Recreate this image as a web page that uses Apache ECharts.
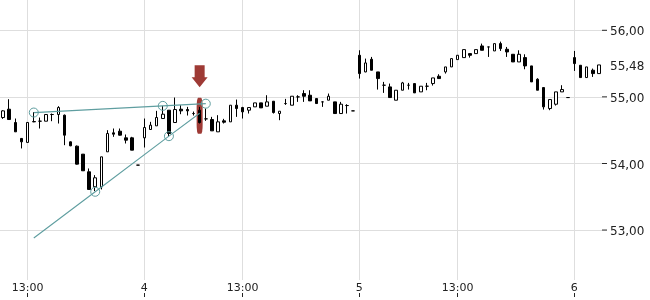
<!DOCTYPE html>
<html><head><meta charset="utf-8">
<script src="https://cdn.jsdelivr.net/npm/echarts@6/dist/echarts.min.js"></script>
<style>html,body{margin:0;padding:0;background:#fff}#c{width:650px;height:300px}</style>
</head><body><div id="c"></div><script>
// Sessions: day label, first 15-min slot (from 09:00), number of candles
const sessionDays = ['3', '4', '5', '6'];
const sessionFirstSlot = [12, 0, 0, 0];
const sessionCounts = [23, 35, 35, 5];

const opens  = [54.69,54.815,54.615,54.376,54.316,54.625,54.635,54.635,54.735,54.735,54.725,54.325,54.26,54.14,53.875,53.65,53.65,54.175,54.46,54.485,54.385,54.385,53.975,54.385,54.51,54.565,54.675,54.80,54.615,54.815,54.81,54.75,54.80,54.67,54.66,54.475,54.64,54.625,54.875,54.84,54.80,54.85,54.91,54.86,54.935,54.75,54.90,54.875,55.0,55.05,55.025,54.975,54.925,54.95,54.925,54.75,54.87,54.79,55.625,55.375,55.565,55.375,55.175,55.15,54.95,55.10,55.175,55.20,55.075,55.16,55.20,55.31,55.375,55.45,55.56,55.59,55.65,55.65,55.765,55.75,55.69,55.80,55.715,55.64,55.525,55.59,55.465,55.265,55.14,54.825,54.89,55.075,54.99,55.59,55.475,55.29,55.40,55.35];
const closes = [54.79,54.66,54.475,54.325,54.616,54.63,54.635,54.735,54.735,54.84,54.425,54.265,53.99,53.89,53.61,53.785,54.10,54.45,54.44,54.425,54.35,54.20,53.975,54.54,54.575,54.69,54.74,54.45,54.81,54.79,54.79,54.75,54.615,54.67,54.49,54.625,54.62,54.875,54.825,54.775,54.84,54.91,54.835,54.925,54.765,54.785,54.90,55.01,55.0,55.01,54.94,54.90,54.925,55.01,54.75,54.89,54.87,54.79,55.35,55.51,55.40,55.275,55.175,54.99,55.10,55.21,55.175,55.06,55.16,55.16,55.285,55.275,55.45,55.575,55.625,55.71,55.625,55.71,55.70,55.75,55.80,55.725,55.675,55.525,55.64,55.465,55.225,55.10,54.85,54.96,55.075,55.11,54.99,55.50,55.29,55.45,55.35,55.48];
const lows   = [54.67,54.66,54.475,54.226,54.316,54.62,54.525,54.635,54.635,54.60,54.275,54.26,53.985,53.89,53.61,53.585,53.61,54.175,54.40,54.42,54.30,54.20,53.975,54.24,54.51,54.565,54.675,54.41,54.615,54.74,54.72,54.72,54.60,54.64,54.49,54.475,54.60,54.625,54.70,54.675,54.75,54.85,54.835,54.86,54.75,54.65,54.88,54.875,54.925,54.925,54.94,54.90,54.85,54.95,54.75,54.75,54.75,54.79,55.275,55.37,55.40,55.11,55.06,54.99,54.95,55.10,55.11,55.06,55.075,55.10,55.17,55.275,55.35,55.45,55.56,55.59,55.59,55.65,55.70,55.60,55.69,55.69,55.60,55.525,55.525,55.415,55.225,55.10,54.81,54.80,54.87,55.075,54.99,55.39,55.29,55.29,55.30,55.35];
const highs  = [54.80,54.965,54.675,54.38,54.616,54.77,54.69,54.74,54.75,54.86,54.735,54.33,54.27,54.14,53.925,53.825,54.10,54.50,54.525,54.525,54.435,54.40,53.975,54.675,54.625,54.79,54.865,54.80,54.99,54.875,54.85,54.78,54.85,54.825,54.70,54.725,54.67,54.875,54.96,54.85,54.84,54.91,54.91,55.025,54.935,54.785,54.97,55.01,55.025,55.10,55.10,54.975,54.93,55.05,54.925,54.925,54.89,54.79,55.70,55.575,55.60,55.375,55.225,55.20,55.10,55.225,55.21,55.20,55.16,55.21,55.285,55.34,55.45,55.575,55.625,55.71,55.65,55.71,55.80,55.75,55.80,55.83,55.75,55.64,55.70,55.64,55.465,55.28,55.14,54.96,55.075,55.175,54.99,55.69,55.475,55.45,55.425,55.48];

// Trend lines (candle index, price)
const trendTopX = [5, 26, 33];
const trendTopY = [54.765, 54.865, 54.898];
const trendUpX = [5, 15, 27, 32];
const trendUpY = [52.88, 53.575, 54.41, 54.755];
const trendUpMarked = [false, true, true, false];

// Signal marker on candle index
const signalIdx = 32;
const signalArrowPrice = 55.31;
const signalBarPrice = 54.715;

// Y axis ticks
const yTicks = [53, 54, 55, 56];

// build categories
const categories = [];
sessionDays.forEach((d, i) => {
  for (let k = 0; k < sessionCounts[i]; k++) {
    const slot = sessionFirstSlot[i] + k;
    const h = 9 + Math.floor(slot / 4), m = (slot % 4) * 15;
    categories.push(d + ' ' + String(h).padStart(2, '0') + ':' + String(m).padStart(2, '0'));
  }
});
const tickIdx = [], tickText = [];
categories.forEach((c, i) => {
  const [d, t] = c.split(' ');
  if (t === '09:00') { tickIdx.push(i); tickText.push(d); }
  else if (t === '13:00') { tickIdx.push(i); tickText.push('13:00'); }
});
const candleData = opens.map((o, i) => [o, closes[i], lows[i], highs[i]]);
const lastPrice = closes[closes.length - 1];
const yLabelValues = yTicks.concat([lastPrice]).sort((a, b) => a - b);

const teal = '#5f9ea0';
const chart = echarts.init(document.getElementById('c'), null, {renderer: 'canvas'});
chart.setOption({
  animation: false,
  backgroundColor: '#fff',
  grid: {left: 0, right: 48, top: 0, bottom: 20, outerBoundsMode: 'none', containLabel: false},
  xAxis: [
    {type: 'category', data: categories, boundaryGap: true,
     axisLine: {show: false}, axisTick: {show: false}, axisLabel: {show: false}, splitLine: {show: false}},
    {type: 'value', min: -0.5, max: categories.length - 0.5, position: 'bottom', offset: 17,
     axisLine: {show: false},
     axisTick: {show: true, inside: true, length: 4, customValues: tickIdx, lineStyle: {color: '#222', width: 1}},
     axisLabel: {show: true, inside: true, margin: 3, customValues: tickIdx, color: '#222',
       fontFamily: 'DejaVu Sans', fontSize: 11,
       formatter: v => tickText[tickIdx.indexOf(Math.round(v))] || ''},
     splitLine: {show: true, lineStyle: {color: '#dedede', width: 1}}}
  ],
  yAxis: [{
    type: 'value', position: 'right', min: 52.25, max: 56.455,
    axisLine: {show: false},
    axisTick: {show: false, customValues: yTicks},
    axisLabel: {show: true, margin: 0, customValues: yLabelValues, color: '#222',
      fontFamily: 'DejaVu Sans', fontSize: 12,
      formatter: v => {
        const txt = v.toFixed(2).replace('.', ',');
        const isTick = yTicks.some(t => Math.abs(t - v) < 1e-6);
        return (isTick ? '{d|}' : '{s|}') + '{v|' + txt + '}';
      },
      rich: {
        d: {width: 5, height: 1, backgroundColor: '#222'},
        s: {width: 5, height: 1},
        v: {padding: [4, 0, 0, 3], fontFamily: 'DejaVu Sans', fontSize: 12, color: '#222'}
      }},
    splitLine: {show: true, lineStyle: {color: '#dedede', width: 1}}
  }],
  series: [
    {type: 'scatter', xAxisIndex: 1, z: 1, silent: true,
     symbol: 'roundRect', symbolSize: [6, 36],
     itemStyle: {color: '#9e3a35', opacity: 1},
     data: [[signalIdx, signalBarPrice]]},
    {type: 'candlestick', xAxisIndex: 0, z: 2, barWidth: 3,
     itemStyle: {color: '#ffffff', color0: '#000000', borderColor: '#000000', borderColor0: '#000000', borderWidth: 1},
     data: candleData},
    {type: 'scatter', xAxisIndex: 1, z: 3, silent: true,
     symbol: 'path://M3,0 L13,0 L13,12 L16,12 L8,22 L0,12 L3,12 Z', symbolSize: [16, 22],
     itemStyle: {color: '#9e3a35', opacity: 1},
     data: [[signalIdx, signalArrowPrice]]},
    {type: 'line', xAxisIndex: 1, z: 4, silent: true,
     symbol: 'circle', symbolSize: 9, showSymbol: true,
     lineStyle: {color: teal, width: 1.2},
     itemStyle: {color: 'rgba(255,255,255,0)', borderColor: teal, borderWidth: 1},
     data: trendTopX.map((x, i) => [x, trendTopY[i]])},
    {type: 'line', xAxisIndex: 1, z: 4, silent: true,
     symbol: 'circle', symbolSize: 9, showSymbol: true,
     lineStyle: {color: teal, width: 1.1},
     itemStyle: {color: 'rgba(255,255,255,0)', borderColor: teal, borderWidth: 1},
     data: trendUpX.map((x, i) => trendUpMarked[i] ? [x, trendUpY[i]] : {value: [x, trendUpY[i]], symbol: 'none'})}
  ]
});
</script></body></html>
